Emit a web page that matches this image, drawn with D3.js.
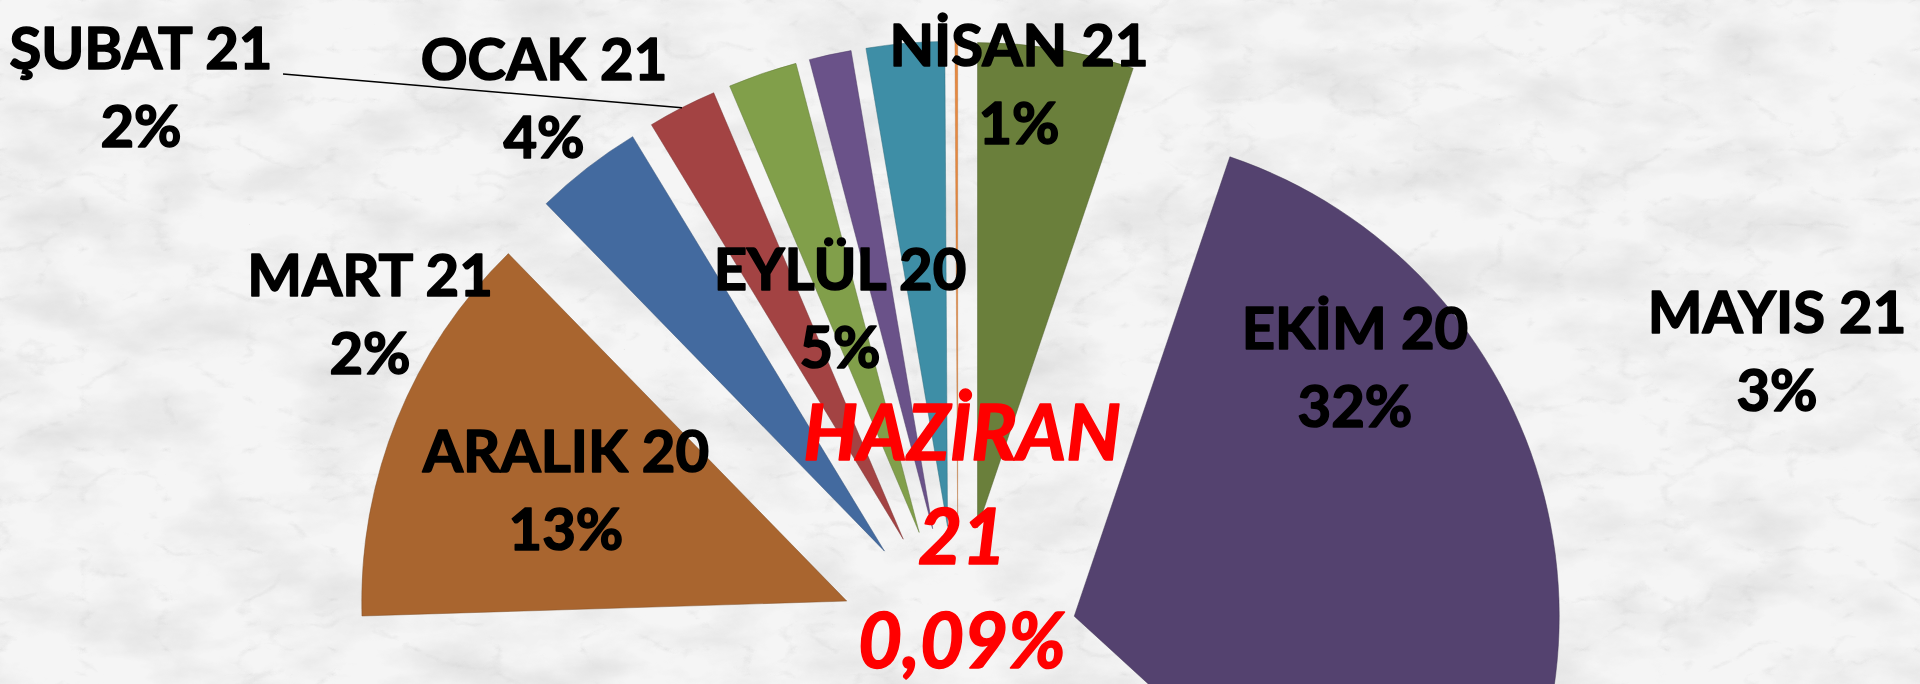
<!DOCTYPE html>
<html>
<head>
<meta charset="utf-8">
<script src="https://cdn.jsdelivr.net/npm/d3@7"></script>
<style>
  html, body { margin: 0; padding: 0; background: #f2f2f2; }
  #chart { width: 1920px; height: 684px; overflow: hidden; }
  text { font-family: Lato, "Open Sans", sans-serif; font-weight: bold; }
</style>
</head>
<body>
<div id="chart"></div>
<script>
// Data (clockwise from 12 o'clock)
const months = ["EYLÜL 20", "EKİM 20", "KASIM 20", "ARALIK 20", "OCAK 21", "ŞUBAT 21", "MART 21", "NİSAN 21", "MAYIS 21", "HAZİRAN 21"];
const shares = [5.2, 31.6, 37.71, 13.2, 3.6, 2.3, 2.3, 1.4, 2.6, 0.09];
const pctLabels = ["5%", "32%", "38%", "13%", "4%", "2%", "2%", "1%", "3%", "0,09%"];

// Styles
const colours = ["#6a7f3b", "#54426f", "#357f93", "#a9652f", "#436a9f", "#a34343", "#819f4a", "#6a5289", "#3e8ea6", "#e8893f"];

// Label placement (dragged by hand in the original)
const labelPos = {
  "EYLÜL 20": [840, 290], "EKİM 20": [1355, 349], "ARALIK 20": [566, 472],
  "OCAK 21": [544, 80], "ŞUBAT 21": [141, 69], "MART 21": [370, 296],
  "NİSAN 21": [1019, 66], "MAYIS 21": [1777, 333], "HAZİRAN 21": [962, 460]
};

const width = 1920, height = 684;
const cx = 958, cy = 646;
const radius = 485, explode = 120;

const svg = d3.select("#chart")
  .append("svg")
  .attr("width", width)
  .attr("height", height);

// Marble background: soft clouds plus faint veins
const defs = svg.append("defs");
const clouds = defs.append("filter").attr("id", "clouds")
  .attr("x", 0).attr("y", 0).attr("width", "100%").attr("height", "100%");
clouds.append("feTurbulence")
  .attr("type", "fractalNoise")
  .attr("baseFrequency", "0.01 0.02")
  .attr("numOctaves", 5)
  .attr("seed", 4);
clouds.append("feColorMatrix")
  .attr("type", "matrix")
  .attr("values", "0 0 0 0 0.55  0 0 0 0 0.55  0 0 0 0 0.55  -1.6 0 0 0 0.95");

const veins = defs.append("filter").attr("id", "veins")
  .attr("x", 0).attr("y", 0).attr("width", "100%").attr("height", "100%");
veins.append("feTurbulence")
  .attr("type", "turbulence")
  .attr("baseFrequency", "0.012 0.02")
  .attr("numOctaves", 6)
  .attr("seed", 11);
veins.append("feColorMatrix")
  .attr("type", "matrix")
  .attr("values", "0 0 0 0 0.6  0 0 0 0 0.6  0 0 0 0 0.6  -3 0 0 0 0.55");

svg.append("rect")
  .attr("width", width).attr("height", height)
  .attr("fill", "#f5f5f5");
svg.append("rect")
  .attr("width", width).attr("height", height)
  .attr("filter", "url(#clouds)")
  .attr("opacity", 0.5);
svg.append("rect")
  .attr("width", width).attr("height", height)
  .attr("filter", "url(#veins)")
  .attr("opacity", 0.55);

const pie = d3.pie()
  .sort(null)
  .value(d => d.value)
  .startAngle(0)
  .endAngle(2 * Math.PI);

const data = months.map((m, i) => ({ month: m, value: shares[i], pct: pctLabels[i], colour: colours[i] }));
const arcs = pie(data);

const arc = d3.arc().innerRadius(0).outerRadius(radius);

const offset = function (d) {
  const a = (d.startAngle + d.endAngle) / 2;
  return [explode * Math.sin(a), -explode * Math.cos(a)];
};

const g = svg.append("g")
  .attr("transform", "translate(" + cx + "," + cy + ")");

g.selectAll("path")
  .data(arcs)
  .enter()
  .append("path")
  .attr("transform", d => "translate(" + offset(d) + ")")
  .attr("d", arc)
  .attr("fill", d => d.data.colour)
  .attr("stroke", d => d3.color(d.data.colour).darker(0.8))
  .attr("stroke-width", d => d.data.value < 0.5 ? 0.6 : 0.8)
  .attr("stroke-opacity", 0.6);

// Leader line for ŞUBAT 21
const subat = arcs.find(d => d.data.month === "ŞUBAT 21");
const sMid = (subat.startAngle + subat.endAngle) / 2;
const sOff = offset(subat);
svg.append("line")
  .attr("x1", labelPos["ŞUBAT 21"][0] + 142)
  .attr("y1", labelPos["ŞUBAT 21"][1] + 5)
  .attr("x2", cx + sOff[0] + radius * Math.sin(sMid))
  .attr("y2", cy + sOff[1] - radius * Math.cos(sMid))
  .attr("stroke", "#000")
  .attr("stroke-width", 1.5);

// Labels
const labels = svg.append("g");
arcs.filter(d => labelPos[d.data.month]).forEach(function (d) {
  const p = labelPos[d.data.month];
  const isRed = d.data.month === "HAZİRAN 21";
  const lines = isRed ? d.data.month.split(" ").concat([d.data.pct]) : [d.data.month, d.data.pct];
  const step = isRed ? 104 : 78;
  const t = labels.append("text")
    .attr("text-anchor", "middle")
    .attr("fill", isRed ? "#ff0000" : "#000")
    .attr("stroke", isRed ? "#ff0000" : "#000")
    .attr("stroke-width", 1.6)
    .attr("stroke-linejoin", "round")
    .style("font-size", isRed ? "76px" : "58px")
    .style("font-style", isRed ? "italic" : "normal");
  lines.forEach(function (l, i) {
    t.append("tspan")
      .attr("x", p[0])
      .attr("y", p[1] + i * step)
      .text(l);
  });
});
</script>
</body>
</html>
